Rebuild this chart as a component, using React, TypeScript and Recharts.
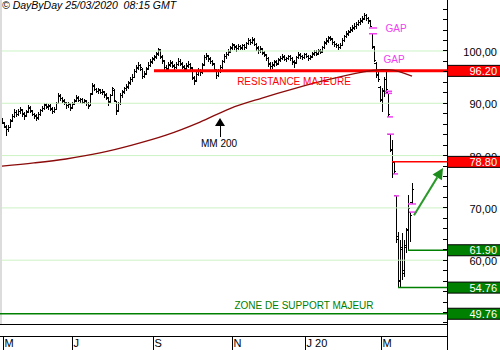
import React from 'react';
import { ComposedChart, Bar, Line, XAxis, YAxis, ReferenceLine, ReferenceDot } from 'recharts';

// séances quotidiennes (index 0 = début mai 2019, dernier = 25/03/2020)
const opens = [
  86.9, 86.2, 85.4, 85.0, 85.4, 86.8, 87.5, 88.3, 87.8, 88.4,
  88.7, 88.0, 87.6, 88.3, 89.1, 88.5, 87.8, 87.6, 87.2, 87.8,
  88.7, 89.0, 89.7, 89.2, 89.5, 88.9, 88.4, 88.9, 90.0, 91.3,
  91.0, 90.4, 90.0, 89.5, 89.9, 89.1, 89.8, 90.5, 91.0, 90.5,
  90.8, 90.1, 90.4, 89.9, 89.6, 91.8, 93.2, 92.6, 92.2, 92.5,
  92.0, 92.1, 91.6, 90.9, 90.3, 91.5, 92.4, 90.3, 88.6, 90.0,
  91.4, 92.1, 92.9, 93.1, 93.9, 94.5, 95.0, 96.0, 96.8, 97.3,
  96.5, 95.1, 95.7, 96.6, 97.2, 97.8, 98.5, 98.8, 99.5, 100.0,
  98.8, 97.9, 96.8, 96.6, 97.3, 97.7, 97.2, 96.9, 97.5, 98.0,
  97.5, 96.9, 96.6, 97.1, 97.4, 96.7, 94.8, 94.3, 95.5, 96.3,
  95.9, 97.5, 98.7, 99.0, 98.5, 97.9, 97.4, 96.3, 95.4, 96.1,
  96.9, 98.0, 98.9, 99.4, 99.9, 100.6, 101.1, 100.8, 100.5, 100.8,
  100.6, 101.0, 100.7, 101.5, 102.0, 101.7, 102.1, 101.2, 100.6, 100.1,
  100.3, 99.7, 99.2, 98.5, 97.6, 97.0, 97.3, 97.9, 97.6, 98.2,
  98.5, 98.8, 98.3, 98.6, 98.9, 98.5, 97.8, 97.8, 98.8, 99.2,
  99.0, 98.8, 99.4, 99.0, 98.5, 98.9, 99.4, 99.8, 99.5, 100.0,
  99.9, 100.7, 101.5, 102.0, 102.5, 102.2, 101.7, 101.3, 101.0, 100.7,
  101.1, 102.0, 102.8, 103.2, 103.7, 104.0, 104.4, 104.6, 105.1, 105.4,
  105.8, 106.2, 106.8, 106.2, 105.8, 103.3, 100.6, 97.6, 95.5, 93.0,
  90.5, 92.4, 94.5, 92.0, 84.1, 81.0, 78.6, 72.3, 64.5, 56.2,
  62.0, 58.0, 62.5, 65.8, 69.2, 71.0,
];
const highs = [
  87.2, 86.5, 85.8, 85.9, 87.0, 87.9, 88.9, 88.7, 89.0, 89.3,
  89.0, 88.3, 88.8, 89.7, 89.5, 88.8, 88.2, 87.9, 88.3, 89.0,
  89.5, 90.0, 90.1, 89.9, 89.8, 89.2, 89.3, 90.3, 91.9, 91.7,
  91.2, 90.8, 90.3, 90.2, 90.1, 90.3, 90.8, 91.5, 91.3, 91.1,
  91.0, 90.9, 90.7, 90.2, 92.0, 93.9, 93.6, 93.0, 93.0, 92.8,
  92.7, 92.4, 91.9, 91.2, 91.8, 93.2, 92.7, 90.5, 90.3, 91.9,
  92.6, 93.2, 93.7, 94.2, 95.0, 95.6, 96.5, 97.3, 97.8, 97.5,
  96.7, 96.2, 96.9, 97.8, 98.4, 98.9, 99.3, 99.9, 100.6, 100.3,
  99.2, 98.2, 97.3, 97.8, 98.3, 98.0, 97.6, 97.9, 98.6, 98.4,
  97.8, 97.3, 97.7, 98.0, 97.7, 96.9, 95.3, 96.0, 96.7, 96.6,
  97.7, 99.2, 99.7, 99.3, 98.8, 98.3, 97.7, 96.6, 96.6, 97.3,
  98.3, 99.4, 99.8, 100.3, 101.0, 101.6, 101.4, 101.1, 101.3, 101.2,
  101.4, 101.3, 101.8, 102.5, 102.3, 102.6, 102.4, 101.5, 100.9, 100.9,
  100.6, 100.0, 99.5, 98.8, 97.9, 97.9, 98.3, 98.2, 98.7, 99.1,
  99.4, 99.2, 98.9, 99.3, 99.2, 98.8, 98.2, 99.1, 99.8, 99.6,
  99.3, 99.7, 99.7, 99.3, 99.2, 99.9, 100.1, 100.1, 100.3, 100.4,
  101.0, 102.0, 102.4, 102.8, 102.9, 102.5, 102.0, 101.6, 101.3, 101.5,
  102.4, 103.1, 103.8, 104.1, 104.6, 104.9, 105.3, 105.6, 106.0, 106.3,
  106.6, 107.3, 107.0, 106.5, 106.0, 103.3, 100.9, 97.9, 96.1, 93.3,
  92.9, 95.0, 96.3, 92.0, 84.1, 82.9, 78.8, 72.3, 65.4, 63.9,
  65.2, 63.9, 66.2, 72.5, 69.2, 74.8,
];
const lows = [
  86.0, 85.2, 83.8, 84.6, 85.2, 86.5, 87.2, 87.4, 87.6, 88.0,
  87.4, 86.9, 87.3, 88.1, 88.2, 87.5, 87.0, 86.6, 86.9, 87.6,
  88.3, 88.8, 88.9, 88.8, 88.6, 88.0, 88.1, 88.7, 89.8, 90.5,
  90.0, 89.6, 89.0, 89.1, 88.5, 88.9, 89.6, 90.2, 90.2, 90.1,
  89.8, 89.9, 89.5, 88.9, 89.4, 91.5, 92.3, 91.9, 91.8, 91.7,
  91.6, 91.1, 90.6, 89.5, 90.0, 91.3, 90.2, 87.8, 88.3, 89.7,
  91.1, 91.8, 92.4, 92.8, 93.5, 94.1, 94.8, 95.7, 96.3, 96.2,
  94.6, 94.8, 95.4, 96.3, 96.9, 97.5, 98.0, 98.5, 99.1, 98.5,
  97.6, 96.4, 96.0, 96.3, 97.0, 96.7, 96.3, 96.6, 97.2, 97.1,
  96.6, 96.0, 96.3, 96.8, 96.4, 94.5, 93.5, 94.0, 95.2, 95.3,
  95.6, 97.2, 98.3, 97.9, 97.5, 97.1, 96.0, 94.7, 95.0, 95.8,
  96.6, 97.7, 98.5, 99.0, 99.6, 100.2, 100.2, 99.9, 100.1, 100.1,
  100.2, 100.1, 100.4, 101.1, 101.2, 101.3, 100.9, 100.0, 99.5, 99.7,
  99.2, 98.8, 98.1, 97.0, 96.4, 96.6, 97.0, 97.1, 97.3, 97.9,
  98.2, 98.0, 97.9, 98.3, 98.1, 97.4, 96.8, 97.5, 98.5, 98.5,
  98.2, 98.5, 98.6, 98.1, 98.2, 98.7, 99.1, 99.0, 99.2, 99.4,
  99.7, 100.4, 101.2, 101.6, 101.9, 101.2, 100.8, 100.6, 100.1, 100.4,
  100.9, 101.8, 102.5, 102.9, 103.4, 103.7, 104.0, 104.3, 104.8, 105.0,
  105.4, 105.9, 105.7, 105.1, 104.5, 100.4, 97.8, 94.8, 94.0, 90.2,
  88.3, 91.2, 92.3, 87.4, 80.6, 75.8, 76.5, 63.3, 54.8, 54.9,
  56.2, 56.8, 61.4, 61.9, 63.5, 70.75,
];
const closes = [
  86.4, 85.6, 84.9, 85.3, 86.6, 87.4, 88.2, 87.9, 88.5, 88.8,
  87.9, 87.5, 88.4, 89.2, 88.6, 87.9, 87.5, 87.1, 87.9, 88.6,
  89.1, 89.6, 89.3, 89.4, 89.0, 88.5, 88.8, 89.9, 91.4, 90.9,
  90.5, 90.1, 89.6, 89.8, 89.2, 89.9, 90.4, 91.1, 90.6, 90.7,
  90.2, 90.5, 90.0, 89.4, 91.6, 93.4, 92.7, 92.3, 92.6, 92.1,
  92.2, 91.5, 91.1, 90.1, 91.4, 92.8, 90.6, 88.4, 89.9, 91.5,
  92.2, 92.8, 93.2, 93.8, 94.6, 94.9, 96.1, 96.6, 97.2, 96.8,
  95.2, 95.6, 96.5, 97.3, 97.9, 98.4, 98.9, 99.4, 100.2, 98.9,
  98.1, 96.9, 96.5, 97.4, 97.8, 97.1, 96.8, 97.4, 98.0, 97.6,
  97.0, 96.5, 97.2, 97.5, 96.9, 95.0, 94.2, 95.6, 96.2, 95.8,
  97.3, 98.8, 99.2, 98.4, 98.0, 97.6, 96.5, 95.3, 96.2, 96.8,
  97.9, 99.0, 99.3, 99.8, 100.5, 101.2, 100.7, 100.4, 100.9, 100.5,
  101.0, 100.6, 101.4, 102.0, 101.6, 102.2, 101.3, 100.5, 100.0, 100.4,
  99.6, 99.3, 98.6, 97.5, 97.0, 97.4, 97.8, 97.5, 98.3, 98.6,
  98.9, 98.4, 98.5, 98.9, 98.6, 97.9, 97.6, 98.7, 99.3, 98.9,
  98.7, 99.3, 99.0, 98.6, 98.8, 99.5, 99.7, 99.4, 99.9, 99.8,
  100.6, 101.6, 101.9, 102.4, 102.3, 101.6, 101.2, 101.0, 100.6, 101.0,
  102.0, 102.7, 103.3, 103.6, 104.1, 104.3, 104.7, 105.0, 105.5, 105.7,
  106.1, 106.7, 106.3, 105.6, 104.7, 100.8, 98.2, 95.4, 94.6, 90.8,
  92.2, 94.6, 92.6, 87.8, 81.2, 78.8, 77.0, 64.0, 56.0, 62.5,
  57.5, 62.8, 65.6, 69.8, 68.5, 73.5,
];

// moyenne mobile 200 jours (points relevés)
const maIdx = [0, 16, 32, 49, 65, 82, 99, 114, 130, 147, 164, 184, 190, 194, 205];
const maVals = [78.0, 78.6, 79.35, 80.5, 82.0, 83.9, 86.4, 89.0, 91.0, 92.9, 94.6, 96.2, 96.45, 96.4, 95.2];

// axe des temps
const monthTicks = [0.5, 35, 75.5, 115, 151.5, 189.5];
const monthLabels = ['M', 'J', 'S', 'N', 'J 20', 'M'];

// axe des prix
const priceTicks = [
  48, 50, 52, 54, 56, 58, 60, 62, 64, 66, 68, 70, 72, 74, 76, 78,
  80, 82, 84, 86, 88, 90, 92, 94, 96, 98, 100, 102, 104, 106, 108,
];
const gridLevels = [60, 70, 80, 90, 100];
const markedLevels = [96.2, 78.8, 61.9, 54.76, 49.76];
const markedColors = ['#ff0000', '#ff0000', '#008000', '#008000', '#008000'];

// gaps
const gapLevels = [104.4, 103.3, 92.3, 91.9, 87.4, 84.1, 76.5, 72.3, 70.75, 69.2];
const gapFrom = [183.5, 183.5, 191.5, 191.5, 192.5, 192.5, 195.5, 196, 203, 203.5];
const gapTo = [187.5, 187.5, 195, 195, 195.5, 196, 198, 198.5, 207, 207.5];

const FONT = '"Liberation Sans", Arial, Helvetica, sans-serif';
const MAGENTA = '#f040f0';

const data = closes.map((c, i) => {
  const k = maIdx.indexOf(i);
  return { i, o: opens[i], h: highs[i], l: lows[i], c, ma: k >= 0 ? maVals[k] : null };
});

// barre OHLC
const OhlcShape = (props: any) => {
  const { x, y, width, height, payload } = props;
  if (!payload || x == null) return null;
  const cx = Math.round(x + (width || 0) / 2);
  const top = Math.min(y, y + height);
  const bot = Math.max(y, y + height);
  const span = payload.h - payload.l || 1;
  const yo = top + ((payload.h - payload.o) / span) * (bot - top);
  const yc = top + ((payload.h - payload.c) / span) * (bot - top);
  return (
    <g stroke="#000" strokeWidth={1} shapeRendering="crispEdges">
      <line x1={cx} x2={cx} y1={top} y2={Math.max(bot, top + 1)} />
      <line x1={cx - 2} x2={cx} y1={yo} y2={yo} />
      <line x1={cx} x2={cx + 2} y1={yc} y2={yc} />
    </g>
  );
};

const PriceTick = (props: any) => {
  const { x, y, payload } = props;
  const v = payload.value;
  const k = markedLevels.indexOf(v);
  if (k >= 0) {
    return (
      <g>
        <rect x={x + 0.5} y={y - 5.5} width={53} height={11} fill={markedColors[k]} stroke="#000" strokeWidth={1} />
        <text x={x + 50} y={y + 4} textAnchor="end" fontSize={11} fontFamily={FONT} fill="#fff">
          {v.toFixed(2)}
        </text>
      </g>
    );
  }
  return (
    <g>
      <line x1={x - 4} x2={x} y1={y} y2={y} stroke="#000" shapeRendering="crispEdges" />
      {v % 10 === 0 && (
        <text x={x + 50} y={y + 5} textAnchor="end" fontSize={11} fontFamily={FONT} fill="#000">
          {v.toFixed(2).replace('.', ',')}
        </text>
      )}
    </g>
  );
};

const MonthTick = (props: any) => {
  const { x, y, payload } = props;
  const k = monthTicks.indexOf(payload.value);
  return (
    <g>
      <line x1={x} x2={x} y1={y + 12} y2={y + 26} stroke="#000" shapeRendering="crispEdges" />
      <text x={x + 1.5} y={y + 23} fontSize={11} fontFamily={FONT} fill="#000">
        {monthLabels[k]}
      </text>
    </g>
  );
};

const textAt = (label: string, color: string) => (p: any) => (
  <text x={p.cx} y={p.cy + 3.6} textAnchor="middle" fontSize={10} fontFamily={FONT} fill={color}>
    {label}
  </text>
);

const UpArrow = (p: any) => (
  <g fill="#000" stroke="#000">
    <polygon points={`${p.cx},${p.cy} ${p.cx - 5},${p.cy + 8} ${p.cx + 5},${p.cy + 8}`} stroke="none" />
    <line x1={p.cx} x2={p.cx} y1={p.cy + 8} y2={p.cy + 19} strokeWidth={1} shapeRendering="crispEdges" />
  </g>
);

const GreenArrow = (p: any) => {
  const { x1, y1, x2, y2 } = p;
  if (x1 == null) return null;
  const ang = Math.atan2(y2 - y1, x2 - x1);
  const bx = x2 - 11 * Math.cos(ang);
  const by = y2 - 11 * Math.sin(ang);
  const px = -Math.sin(ang) * 5.5;
  const py = Math.cos(ang) * 5.5;
  return (
    <g>
      <line x1={x1} y1={y1} x2={bx} y2={by} stroke="#2a9a2a" strokeWidth={2} />
      <polygon points={`${x2},${y2} ${bx + px},${by + py} ${bx - px},${by - py}`} fill="#1c8c1c" />
    </g>
  );
};

export default function App() {
  return (
    <div style={{ position: 'absolute', left: 0, top: 0, width: 500, height: 350, background: '#fff' }}>
      <ComposedChart width={500} height={350} data={data} margin={{ top: 0, right: 0, bottom: 0, left: 0 }}>
        <XAxis
          dataKey="i"
          type="number"
          domain={[-1, 222.5]}
          ticks={monthTicks}
          interval={0}
          tick={<MonthTick />}
          tickLine={false}
          tickSize={0}
          tickMargin={0}
          height={26}
          axisLine={{ stroke: '#000', shapeRendering: 'crispEdges' }}
          allowDataOverflow
        />
        <YAxis
          orientation="right"
          type="number"
          domain={[47.8, 109.75]}
          ticks={[...priceTicks, ...markedLevels]}
          interval={0}
          tick={<PriceTick />}
          tickLine={false}
          tickSize={0}
          tickMargin={0}
          width={53}
          axisLine={{ stroke: '#000', shapeRendering: 'crispEdges' }}
          allowDataOverflow
        />
        {gridLevels.map((v) => (
          <ReferenceLine key={v} y={v} stroke="#ccf2c4" strokeWidth={1} />
        ))}
        <ReferenceLine x={-0.5} stroke="#dcdcdc" strokeWidth={2} />

        <Bar dataKey={(d: any) => [d.l, d.h]} shape={<OhlcShape />} barSize={2} isAnimationActive={false} />

        {/* résistance majeure et niveaux */}
        <ReferenceLine segment={[{ x: 76, y: 96.2 }, { x: 222.5, y: 96.2 }]} stroke="#ff0000" strokeWidth={3} />
        <ReferenceLine segment={[{ x: 195, y: 78.8 }, { x: 222.5, y: 78.8 }]} stroke="#ff0000" strokeWidth={1.5} />
        <ReferenceLine segment={[{ x: 203, y: 61.9 }, { x: 222.5, y: 61.9 }]} stroke="#008000" strokeWidth={1.5} />
        <ReferenceLine segment={[{ x: 198, y: 54.76 }, { x: 222.5, y: 54.76 }]} stroke="#008000" strokeWidth={1.5} />
        <ReferenceLine y={49.76} stroke="#008000" strokeWidth={1.5} />

        <Line
          dataKey="ma"
          type="monotone"
          connectNulls
          dot={false}
          activeDot={false}
          stroke="#8b0a0a"
          strokeWidth={1.3}
          isAnimationActive={false}
        />

        {gapLevels.map((v, k) => (
          <ReferenceLine
            key={'g' + k}
            segment={[{ x: gapFrom[k], y: v }, { x: gapTo[k], y: v }]}
            stroke={MAGENTA}
            strokeWidth={1.5}
          />
        ))}

        <ReferenceDot x={197} y={104.34} r={0} shape={textAt('GAP', MAGENTA)} />
        <ReferenceDot x={196} y={98.37} r={0} shape={textAt('GAP', MAGENTA)} />
        <ReferenceDot x={146} y={94.17} r={0} shape={textAt('RESISTANCE MAJEURE', '#ff0000')} />
        <ReferenceDot x={151} y={51.34} r={0} shape={textAt('ZONE DE SUPPORT MAJEUR', '#008000')} />
        <ReferenceDot x={108.5} y={82.35} r={0} shape={textAt('MM 200', '#000')} />
        <ReferenceDot x={109} y={87.19} r={0} shape={UpArrow} />

        <ReferenceLine segment={[{ x: 206, y: 68.6 }, { x: 220.5, y: 77.63 }]} shape={GreenArrow} />
      </ComposedChart>

      <div style={{ position: 'absolute', left: 0, top: 336, width: 447, height: 1, background: '#000' }} />
      <div style={{ position: 'absolute', left: 446.5, top: 324, width: 1, height: 26, background: '#000' }} />
      <div
        style={{
          position: 'absolute',
          left: 2,
          top: -1,
          fontFamily: FONT,
          fontStyle: 'italic',
          fontSize: 10.5,
          lineHeight: '13px',
          color: '#000',
          whiteSpace: 'pre',
        }}
      >
        {'© DayByDay 25/03/2020  08:15 GMT'}
      </div>
    </div>
  );
}
